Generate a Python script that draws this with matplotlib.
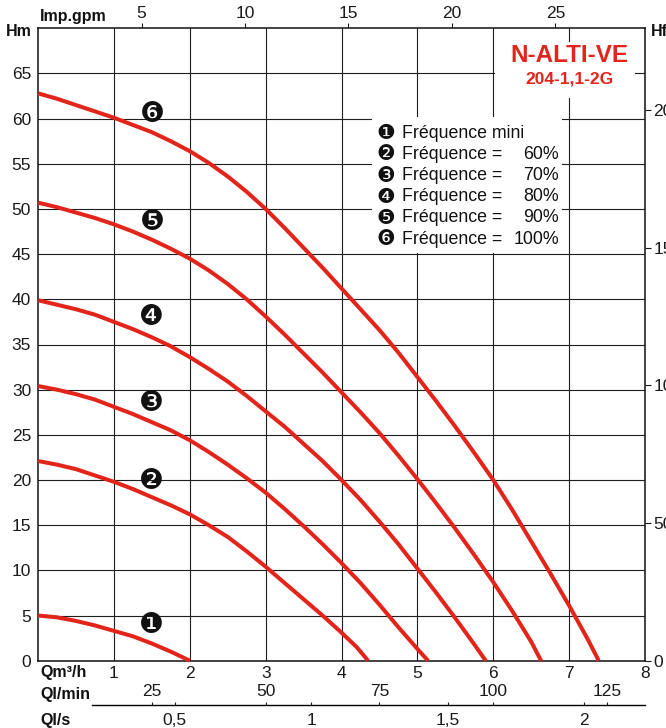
import matplotlib
matplotlib.use("Agg")
import matplotlib.pyplot as plt
from matplotlib.patches import Rectangle

# ---------------- data ----------------
q1 = [0, 0.25, 0.5, 0.75, 1, 1.25, 1.5, 1.75, 2.0]
h1 = [5.0, 4.8, 4.4, 3.9, 3.3, 2.7, 1.9, 1.0, 0.0]

q2 = [0, 0.25, 0.5, 0.75, 1, 1.25, 1.5, 1.75, 2, 2.25, 2.5, 2.75, 3, 3.25,
      3.5, 3.75, 4, 4.2, 4.35]
h2 = [22.1, 21.7, 21.2, 20.5, 19.8, 19.0, 18.1, 17.2, 16.2, 15.0, 13.7, 12.1,
      10.4, 8.6, 6.8, 5.0, 3.1, 1.5, 0.0]

q3 = [0, 0.25, 0.5, 0.75, 1, 1.25, 1.5, 1.75, 2, 2.25, 2.5, 2.75, 3, 3.25,
      3.5, 3.75, 4, 4.25, 4.5, 4.75, 5, 5.14]
h3 = [30.4, 30.0, 29.5, 28.9, 28.1, 27.3, 26.4, 25.5, 24.4, 23.1, 21.7, 20.2,
      18.6, 16.8, 14.9, 12.9, 10.8, 8.6, 6.2, 3.7, 1.3, 0.0]

q4 = [0, 0.25, 0.5, 0.75, 1, 1.25, 1.5, 1.75, 2, 2.25, 2.5, 2.75, 3, 3.25,
      3.5, 3.75, 4, 4.25, 4.5, 4.75, 5, 5.25, 5.5, 5.75, 5.9]
h4 = [39.9, 39.4, 38.9, 38.3, 37.5, 36.7, 35.8, 34.8, 33.6, 32.3, 30.9, 29.3,
      27.6, 25.9, 24.0, 22.1, 20.0, 17.8, 15.4, 12.9, 10.2, 7.5, 4.7, 1.8, 0.0]

q5 = [0, 0.25, 0.5, 0.75, 1, 1.25, 1.5, 1.75, 2, 2.25, 2.5, 2.75, 3, 3.25,
      3.5, 3.75, 4, 4.25, 4.5, 4.75, 5, 5.25, 5.5, 5.75, 6, 6.25, 6.5, 6.63]
h5 = [50.7, 50.2, 49.6, 49.0, 48.3, 47.5, 46.6, 45.6, 44.5, 43.2, 41.7, 40.0,
      38.1, 36.1, 34.0, 31.9, 29.7, 27.5, 25.2, 22.7, 20.1, 17.4, 14.6, 11.7,
      8.7, 5.5, 2.1, 0.0]

q6 = [0, 0.25, 0.5, 0.75, 1, 1.25, 1.5, 1.75, 2, 2.25, 2.5, 2.75, 3, 3.25,
      3.5, 3.75, 4, 4.25, 4.5, 4.75, 5, 5.25, 5.5, 5.75, 6, 6.25, 6.5, 6.75,
      7, 7.25, 7.39]
h6 = [62.8, 62.2, 61.5, 60.8, 60.1, 59.3, 58.5, 57.5, 56.4, 55.1, 53.6, 51.9,
      50.0, 47.9, 45.7, 43.5, 41.2, 38.9, 36.6, 34.1, 31.4, 28.7, 25.9, 23.0,
      20.0, 16.7, 13.2, 9.7, 6.1, 2.3, 0.0]

curve_ids = ["\u2776", "\u2777", "\u2778", "\u2779", "\u277A", "\u277B"]
label_q = 1.5
label_h = [4.0, 19.9, 28.5, 38.0, 48.6, 60.5]

legend_names = ["Fréquence mini", "Fréquence =", "Fréquence =", "Fréquence =",
                "Fréquence =", "Fréquence ="]
legend_pct = ["", "60%", "70%", "80%", "90%", "100%"]

x_ticks_m3h = [1, 2, 3, 4, 5, 6, 7, 8]
y_ticks_m = [0, 5, 10, 15, 20, 25, 30, 35, 40, 45, 50, 55, 60, 65]
gpm_ticks = [5, 10, 15, 20, 25]
ft_ticks = [0, 50, 100, 150, 200]
lmin_ticks = [25, 50, 75, 100, 125]
ls_ticks = [0.5, 1, 1.5, 2]
ls_labels = ["0,5", "1", "1,5", "2"]

title1 = "N-ALTI-VE"
title2 = "204-1,1-2G"

# ---------------- style ----------------
RED = "#E3241B"
FONT = ["Liberation Sans", "DejaVu Sans"]
plt.rcParams["font.family"] = FONT

W, H = 666, 728
fig = plt.figure(figsize=(W / 100, H / 100), dpi=100)

x0, x1 = 38.1, 645.0
y_bot, y_top = 660.7, 28.3
ax = fig.add_axes([x0 / W, 1 - y_bot / H, (x1 - x0) / W, (y_bot - y_top) / H])


def fx(px):
    return px / W


def fy(py):
    return 1 - py / H


ax.set_xlim(0, 8)
ax.set_ylim(0, 70)
ax.set_axisbelow(True)
ax.grid(True, color="#1e1e1e", lw=0.8)
ax.set_xticks(x_ticks_m3h)
ax.set_xticklabels([str(v) for v in x_ticks_m3h])
ax.set_yticks(y_ticks_m)
ax.tick_params(axis="both", length=0, labelsize=12.5, colors="#1a1a1a")
ax.tick_params(axis="x", pad=4)
ax.tick_params(axis="y", pad=5)
for s in ax.spines.values():
    s.set_linewidth(1.1)
    s.set_color("#111111")

# white boxes hiding the grid (title box & legend box)
ax.add_patch(Rectangle((fx(495), fy(98)), fx(635) - fx(495), fy(42) - fy(98),
                       transform=fig.transFigure, facecolor="white",
                       edgecolor="none", zorder=1))
ax.add_patch(Rectangle((fx(372), fy(253)), fx(562) - fx(372), fy(117) - fy(253),
                       transform=fig.transFigure, facecolor="white",
                       edgecolor="none", zorder=1))

# curves
for qs, hs in [(q1, h1), (q2, h2), (q3, h3), (q4, h4), (q5, h5), (q6, h6)]:
    ax.plot(qs, hs, color=RED, lw=2.9, solid_capstyle="butt",
            solid_joinstyle="round", zorder=3, clip_on=False)

for cid, hv in zip(curve_ids, label_h):
    ax.text(label_q, hv, cid, family="DejaVu Sans", fontsize=20,
            ha="center", va="center", color="#111111", zorder=4)

# top axis: Imp. gpm
gpm_per_m3h = 1000 / 4.54609 / 60
top = ax.secondary_xaxis("top", functions=(lambda q: q * gpm_per_m3h,
                                             lambda g: g / gpm_per_m3h))
top.set_xticks(gpm_ticks)
top.tick_params(direction="out", length=3.8, width=0.8, pad=1.5,
                labelsize=12.5, colors="#1a1a1a")
top.spines["top"].set_visible(False)

# right axis: feet
ft_per_m = 3.28084
right = ax.secondary_yaxis("right", functions=(lambda h: h * ft_per_m,
                                                lambda f: f / ft_per_m))
right.set_yticks(ft_ticks)
right.tick_params(direction="out", length=4.5, width=0.8, pad=1.5,
                  labelsize=12.5, colors="#1a1a1a")
right.spines["right"].set_visible(False)

# bottom extra scales: l/min (above line) and l/s (below line)
loc = (y_bot - 705) / (y_bot - y_top)
lmin = ax.secondary_xaxis(loc, functions=(lambda q: q * 1000 / 60,
                                          lambda l: l * 60 / 1000))
lmin.set_alignment("top")
lmin.set_xticks(lmin_ticks)
lmin.tick_params(direction="out", length=2.5, width=0.8, pad=1.5,
                 labelsize=12.5, colors="#1a1a1a")
lmin.spines["top"].set_bounds((92 - x0) / 75.9 * 1000 / 60, 8 * 1000 / 60)
lmin.spines["top"].set_linewidth(1.0)

lsec = ax.secondary_xaxis(loc, functions=(lambda q: q / 3.6,
                                          lambda s: s * 3.6))
lsec.set_alignment("bottom")
lsec.set_xticks(ls_ticks)
lsec.set_xticklabels(ls_labels)
lsec.tick_params(direction="in", length=2.5, width=0.8, pad=6,
                 labelsize=12.5, colors="#1a1a1a")
lsec.spines["bottom"].set_visible(False)

# axis titles
bold = dict(fontweight="bold", fontsize=11.5, color="#111111")
fig.text(fx(32), fy(31), "Hm", ha="right", va="center", **bold)
fig.text(fx(40), fy(16), "Imp.gpm", ha="left", va="center", **bold)
fig.text(fx(651), fy(31), "Hft", ha="left", va="center", **bold)
fig.text(fx(40), fy(673), "Qm\u00b3/h", ha="left", va="center", **bold)
fig.text(fx(40), fy(695), "Ql/min", ha="left", va="center", **bold)
fig.text(fx(40), fy(720), "Ql/s", ha="left", va="center", **bold)

# title
fig.text(fx(569.7), fy(55), title1, ha="center", va="center", color=RED,
         fontsize=17.5, fontweight="bold")
fig.text(fx(569.7), fy(79), title2, ha="center", va="center", color=RED,
         fontsize=12.5, fontweight="bold")

# legend
row0, dy = 133.3, 21.15
for i, (cid, name, pct) in enumerate(zip(curve_ids, legend_names, legend_pct)):
    yy = fy(row0 + i * dy)
    fig.text(fx(385.5), yy, cid, family="DejaVu Sans", fontsize=15,
             ha="center", va="center", color="#111111")
    fig.text(fx(402), yy, name, ha="left", va="center", fontsize=12.8,
             color="#111111")
    if pct:
        fig.text(fx(559), yy, pct, ha="right", va="center", fontsize=12.8,
                 color="#111111")

fig.savefig("out.png", dpi=100)
